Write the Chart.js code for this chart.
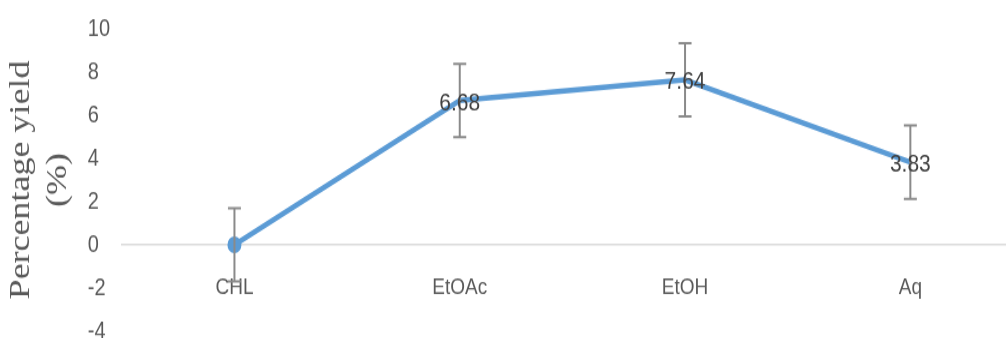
<!DOCTYPE html>
<html>
<head>
<meta charset="utf-8">
<script src="https://cdn.jsdelivr.net/npm/chart.js@4/dist/chart.umd.min.js"></script>
<style>
  html, body { margin: 0; padding: 0; background: #ffffff; overflow: hidden; width: 1006px; height: 338px; }
  #wrap { width: 1030px; height: 300px; transform: scaleY(1.2); transform-origin: 0 0; }
</style>
</head>
<body>
<div id="wrap"><canvas id="chart" width="1030" height="300"></canvas></div>
<script>
// Extraction yield by solvent
const categories = ['CHL', 'EtOAc', 'EtOH', 'Aq'];
const yieldValues = [0, 6.68, 7.64, 3.83];
const yieldErrors = [1.7, 1.7, 1.7, 1.7];
const markerSizes = [7, 0, 0, 0];
const yTicks = [-4, -2, 0, 2, 4, 6, 8, 10];
const yTitle = ['Percentage yield', '(%)'];

// Vertical error bars with caps, drawn from the y scale
const errorBarPlugin = {
  id: 'errorBars',
  afterDatasetsDraw(chart) {
    const { ctx, scales: { y } } = chart;
    const meta = chart.getDatasetMeta(0);
    ctx.save();
    ctx.strokeStyle = '#8a8a8a';
    ctx.lineWidth = 2;
    meta.data.forEach((pt, i) => {
      const v = yieldValues[i], e = yieldErrors[i];
      const top = y.getPixelForValue(v + e);
      const bot = y.getPixelForValue(v - e);
      const x = pt.x, cap = 6.5;
      ctx.beginPath();
      ctx.moveTo(x, top); ctx.lineTo(x, bot);
      ctx.moveTo(x - cap, top); ctx.lineTo(x + cap, top);
      ctx.moveTo(x - cap, bot); ctx.lineTo(x + cap, bot);
      ctx.stroke();
    });
    ctx.restore();
  }
};

// Value labels centred on each point
const valueLabelPlugin = {
  id: 'valueLabels',
  afterDatasetsDraw(chart) {
    const { ctx } = chart;
    const meta = chart.getDatasetMeta(0);
    ctx.save();
    ctx.font = '21px "Liberation Sans", Arial, sans-serif';
    ctx.fillStyle = '#404040';
    ctx.textAlign = 'center';
    ctx.textBaseline = 'middle';
    meta.data.forEach((pt, i) => {
      if (yieldValues[i] === 0) return;
      ctx.fillText(yieldValues[i].toFixed(2), pt.x, pt.y + 2);
    });
    ctx.restore();
  }
};

new Chart(document.getElementById('chart'), {
  type: 'line',
  data: {
    labels: categories,
    datasets: [{
      data: yieldValues,
      borderColor: '#5B9BD5',
      backgroundColor: '#5B9BD5',
      borderWidth: 4.5,
      pointRadius: markerSizes,
      pointBorderWidth: 0,
      pointHoverRadius: markerSizes,
      tension: 0,
      fill: false
    }]
  },
  options: {
    responsive: false,
    animation: false,
    events: [],
    layout: { padding: { left: 3, right: 6, top: 17, bottom: 15 } },
    plugins: {
      legend: { display: false },
      tooltip: { enabled: false }
    },
    scales: {
      x: {
        position: { y: 0 },
        offset: true,
        grid: { display: false, drawTicks: false },
        border: { display: true, color: '#d9d9d9', width: 1.5 },
        ticks: {
          padding: 24,
          color: '#595959',
          font: { family: '"Liberation Sans", Arial, sans-serif', size: 19 },
          maxRotation: 0
        }
      },
      y: {
        position: 'left',
        weight: 0,
        min: -4,
        max: 10,
        afterBuildTicks(scale) {
          scale.ticks = yTicks.map(v => ({ value: v }));
        },
        afterFit(scale) {
          scale.width = 34;
        },
        grid: { display: false, drawTicks: false },
        border: { display: false },
        ticks: {
          crossAlign: 'far',
          padding: 12,
          color: '#595959',
          font: { family: '"Liberation Sans", Arial, sans-serif', size: 20 }
        }
      },
      // outer left axis that carries only the axis title
      yTitleAxis: {
        type: 'linear',
        position: 'left',
        weight: 1,
        min: -4,
        max: 10,
        grid: { display: false, drawTicks: false },
        border: { display: false },
        ticks: { display: false },
        title: {
          display: true,
          text: yTitle,
          color: '#595959',
          font: { family: '"Liberation Serif", "Times New Roman", serif', size: 30, lineHeight: 1.23 },
          padding: { top: 0, bottom: 11 }
        }
      }
    }
  },
  plugins: [errorBarPlugin, valueLabelPlugin]
});
</script>
</body>
</html>
